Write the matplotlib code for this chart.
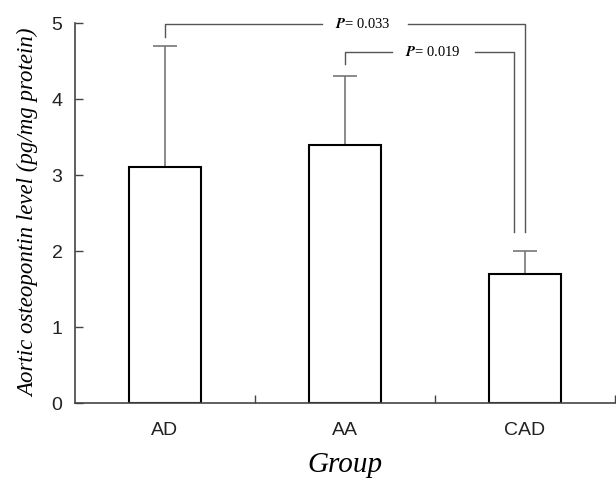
import matplotlib.pyplot as plt

# dados do grafico
grupos = ["AD", "AA", "CAD"]
medias = [3.1, 3.4, 1.7]
erros = [1.6, 0.9, 0.3]

titulo_y = "Aortic osteopontin level (pg/mg protein)"
titulo_x = "Group"
p_valores = ["0.033", "0.019"]

plt.rcParams["mathtext.fontset"] = "stix"

x = list(range(len(grupos)))

fig = plt.figure(figsize=(6.16, 4.8), dpi=100)
ax = fig.add_axes([75 / 616, 1 - 403 / 480, 540 / 616, 380 / 480])

ax.bar(x, medias, width=0.4, color="white", edgecolor="black", linewidth=1.5, zorder=2)
ax.errorbar(x, medias, yerr=[[0] * len(erros), erros], fmt="none",
            ecolor="#777777", elinewidth=1.2, capsize=8.5, capthick=1.2, zorder=1)

# colchetes de significancia
cor = "#555555"
# AD x CAD
ax.plot([0, 0, 0.87], [4.82, 4.99, 4.99], color=cor, lw=1, clip_on=False)
ax.plot([1.35, 2.0, 2.0], [4.99, 4.99, 2.25], color=cor, lw=1, clip_on=False)
ax.text(1.1, 4.99, r"$\mathbfit{P}$" + "= " + p_valores[0], ha="center", va="center",
        family="Liberation Serif", fontsize=10.5)
# AA x CAD
ax.plot([1.0, 1.0, 1.26], [4.46, 4.62, 4.62], color=cor, lw=1)
ax.plot([1.72, 1.94, 1.94], [4.62, 4.62, 2.25], color=cor, lw=1)
ax.text(1.49, 4.62, r"$\mathbfit{P}$" + "= " + p_valores[1], ha="center", va="center",
        family="Liberation Serif", fontsize=10.5)

ax.set_xlim(-0.5, 2.5)
ax.set_ylim(0, 5)
ax.set_yticks([0, 1, 2, 3, 4, 5])
ax.set_xticks(x)
ax.set_xticklabels(grupos)
ax.set_xticks([0.5, 1.5, 2.5], minor=True)

for s in ["top", "right"]:
    ax.spines[s].set_visible(False)
for s in ["left", "bottom"]:
    ax.spines[s].set_color("#444444")
    ax.spines[s].set_linewidth(1.2)

ax.tick_params(axis="y", direction="in", length=6, width=1, color="#444444", pad=9,
               labelsize=14, labelcolor="#222222")
ax.tick_params(axis="x", which="major", length=0, pad=14, labelsize=14, labelcolor="#222222")
ax.tick_params(axis="x", which="minor", direction="in", length=6, width=1, color="#444444")
for t in ax.get_xticklabels() + ax.get_yticklabels():
    t.set_family("Liberation Sans")

ax.set_ylabel(titulo_y, family="Liberation Serif", style="italic", fontsize=16.5, labelpad=9)
ax.set_xlabel(titulo_x, family="Liberation Serif", style="italic", fontsize=21, labelpad=9)

fig.savefig("out.png", dpi=100)
